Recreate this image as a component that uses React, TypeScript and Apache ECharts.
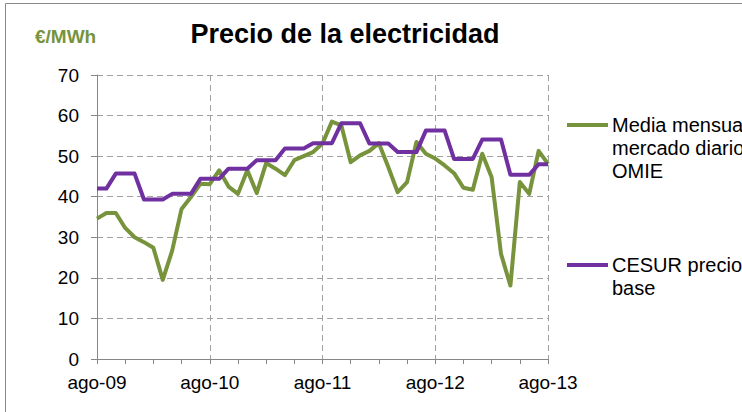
import React, { useEffect, useRef } from "react";
import * as echarts from "echarts";

const months = ["ene", "feb", "mar", "abr", "may", "jun", "jul", "ago", "sep", "oct", "nov", "dic"];
const categories: string[] = [];
for (let k = 0; k < 49; k++) {
  const m = (7 + k) % 12;
  const y = 9 + Math.floor((7 + k) / 12);
  categories.push(`${months[m]}-${String(y).padStart(2, "0")}`);
}

const omie = [
  34.6, 36.0, 36.0, 32.3, 30.0, 28.8, 27.4, 19.5, 26.7, 37.0, 39.9, 43.2,
  43.1, 46.5, 42.5, 40.7, 46.5, 40.9, 48.3, 46.9, 45.3, 49.0, 50.0, 51.0,
  53.1, 58.5, 57.6, 48.5, 50.2, 51.3, 53.2, 47.3, 41.1, 43.6, 53.5, 50.6,
  49.4, 47.7, 45.8, 42.2, 41.7, 50.6, 44.8, 25.9, 18.1, 43.6, 40.7, 51.3,
  48.1,
];

const cesur = [
  42.0, 42.0, 45.7, 45.7, 45.7, 39.3, 39.3, 39.3, 40.7, 40.7, 40.7, 44.4,
  44.4, 44.4, 46.9, 46.9, 46.9, 49.0, 49.0, 49.0, 51.9, 51.9, 51.9, 53.2,
  53.2, 53.2, 58.1, 58.1, 58.1, 53.1, 53.1, 53.1, 51.0, 51.0, 51.0, 56.3,
  56.3, 56.3, 49.3, 49.3, 49.3, 54.1, 54.1, 54.1, 45.4, 45.4, 45.4, 48.0,
  48.0,
];

const seriesNames = ["Media mensual mercado diario OMIE", "CESUR precio base"];
const legendLines = [["Media mensual", "mercado diario", "OMIE"], ["CESUR precio", "base"]];
const colors = ["#77933C", "#7030A0"];

const FONT = "'Liberation Sans', Arial, sans-serif";

export default function App() {
  const ref = useRef<HTMLDivElement>(null);
  useEffect(() => {
    if (!ref.current) return;
    const chart = echarts.init(ref.current, undefined, { renderer: "svg" });
    const gridColor = "#A0A0A0";
    chart.setOption({
      animation: false,
      backgroundColor: "#ffffff",
      textStyle: { fontFamily: FONT },
      grid: { left: 97, right: 194, top: 75, bottom: 53, containLabel: false },
      xAxis: {
        type: "category",
        data: categories,
        boundaryGap: false,
        axisLine: { show: true, lineStyle: { color: "#868686", width: 1 } },
        axisTick: { show: true, interval: 2, length: 5, lineStyle: { color: "#868686" } },
        axisLabel: { interval: 11, color: "#000", fontSize: 19, fontFamily: FONT, margin: 14 },
        splitLine: {
          show: true,
          interval: (idx: number) => idx % 12 === 0 && idx > 0,
          lineStyle: { color: gridColor, type: [6, 4], width: 1 },
        },
      },
      yAxis: {
        type: "value",
        min: 0,
        max: 70,
        interval: 10,
        axisLine: { show: true, lineStyle: { color: "#868686", width: 1 } },
        axisTick: { show: true, length: 6, lineStyle: { color: "#868686" } },
        axisLabel: { color: "#000", fontSize: 19, fontFamily: FONT, margin: 18 },
        splitLine: { show: true, lineStyle: { color: gridColor, type: [6, 4], width: 1 } },
      },
      series: [
        {
          name: seriesNames[0],
          type: "line",
          data: omie,
          symbol: "none",
          lineStyle: { color: colors[0], width: 4, join: "round" },
          itemStyle: { color: colors[0] },
        },
        {
          name: seriesNames[1],
          type: "line",
          data: cesur,
          symbol: "none",
          lineStyle: { color: colors[1], width: 4, join: "round" },
          itemStyle: { color: colors[1] },
        },
      ],
      graphic: [
        {
          type: "rect",
          shape: { x: 5.5, y: 3.5, width: 800, height: 500 },
          style: { fill: "none", stroke: "#8A8A8A", lineWidth: 1 },
          silent: true,
        },
        {
          type: "text",
          x: 35,
          y: 36,
          style: {
            text: "€/MWh",
            font: `bold 19px ${FONT}`,
            fill: "#77933C",
            verticalAlign: "middle",
          },
        },
        {
          type: "text",
          x: 345,
          y: 34,
          style: {
            text: "Precio de la electricidad",
            font: `bold 27px ${FONT}`,
            fill: "#000",
            align: "center",
            verticalAlign: "middle",
          },
        },
        {
          type: "line",
          shape: { x1: 567, y1: 125, x2: 608, y2: 125 },
          style: { stroke: colors[0], lineWidth: 4 },
        },
        {
          type: "text",
          x: 612,
          y: 125 - 11.5,
          style: {
            text: legendLines[0].join("\n"),
            font: `20px ${FONT}`,
            lineHeight: 23,
            fill: "#000",
            verticalAlign: "top",
          },
        },
        {
          type: "line",
          shape: { x1: 567, y1: 265, x2: 608, y2: 265 },
          style: { stroke: colors[1], lineWidth: 4 },
        },
        {
          type: "text",
          x: 612,
          y: 265 - 11.5,
          style: {
            text: legendLines[1].join("\n"),
            font: `20px ${FONT}`,
            lineHeight: 23,
            fill: "#000",
            verticalAlign: "top",
          },
        },
      ],
    });
    return () => chart.dispose();
  }, []);
  return (
    <div
      ref={ref}
      style={{ position: "fixed", left: 0, top: 0, width: 742, height: 412, overflow: "hidden" }}
    />
  );
}
